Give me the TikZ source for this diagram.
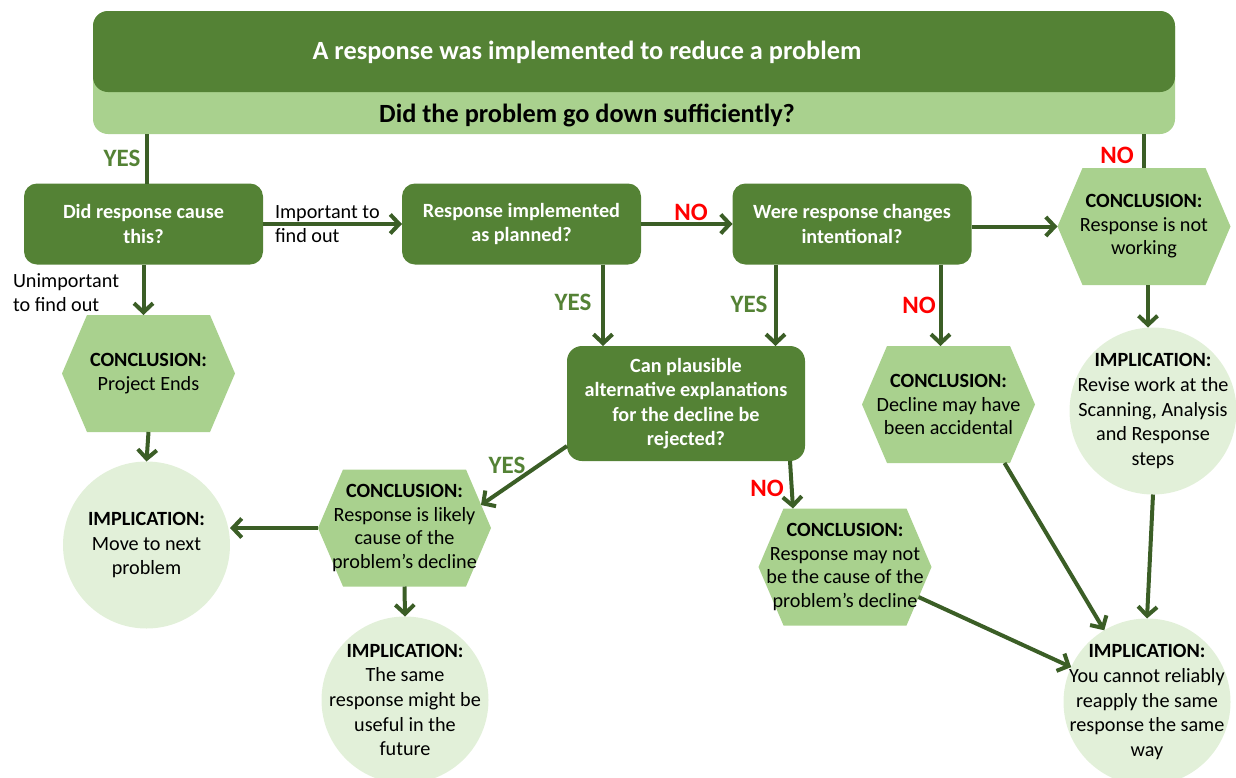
\documentclass[tikz,border=0pt]{standalone}
\usepackage{fontspec}
\setmainfont{Carlito}
\usetikzlibrary{arrows.meta}
\definecolor{dkg}{HTML}{548235}
\definecolor{ltg}{HTML}{A9D18E}
\definecolor{pale}{HTML}{E2F0D9}
\definecolor{arrc}{HTML}{3B5E26}
\definecolor{nored}{HTML}{FF0000}
\begin{document}
\begin{tikzpicture}[x=1pt,y=-1pt,
  every node/.style={font=\fontsize{20.2}{24}\selectfont, inner sep=0pt, outer sep=0pt},
  qbox/.style={fill=dkg, rounded corners=13pt, text=white, font=\fontsize{20.2}{24.4}\selectfont\bfseries, align=center, minimum width=239pt, minimum height=81pt},
  hexbox/.style={align=center, minimum width=173pt, minimum height=117pt, font=\fontsize{20.2}{23.6}\selectfont,
    path picture={\fill[ltg] (path picture bounding box.west) -- ([xshift=25pt]path picture bounding box.north west) -- ([xshift=-25pt]path picture bounding box.north east) -- (path picture bounding box.east) -- ([xshift=-25pt]path picture bounding box.south east) -- ([xshift=25pt]path picture bounding box.south west) -- cycle;}},
  circ/.style={circle, fill=pale, align=center, inner sep=-40pt, minimum size=167pt, font=\fontsize{20.2}{24.7}\selectfont},
  conn/.style={draw=arrc, line width=4pt},
  arr/.style={conn, -{Straight Barb[length=9pt,width=19pt]}},
  yes/.style={text=dkg, font=\fontsize{25}{30}\selectfont\bfseries},
  no/.style={text=nored, font=\fontsize{25}{30}\selectfont\bfseries},
  note/.style={align=left, anchor=west}
]
\useasboundingbox (0,0) rectangle (1236,777);
% banner
\node[fill=ltg, rounded corners=15pt, minimum width=1082pt, minimum height=123pt] (ban) at (634,72.5) {};
\node[fill=dkg, rounded corners=15pt, minimum width=1082pt, minimum height=81pt] (top) at (634,51.5) {};
\node[text=white, font=\fontsize{26.3}{31}\selectfont\bfseries] (ttl) at (587,52) {A response was implemented to reduce a problem};
\node[font=\fontsize{26.3}{31}\selectfont\bfseries] (sub) at (587,115) {Did the problem go down sufficiently?};
% questions
\node[qbox] (q1) at (143.5,224) {Did response cause\\this?};
\node[qbox] (q2) at (521.5,224) {Response implemented\\as planned?};
\node[qbox] (q3) at (852,224) {Were response changes\\intentional?};
\node[qbox, minimum width=238pt, minimum height=115pt, rounded corners=15pt] (q4) at (686,403.5) {Can plausible\\alternative explanations\\for the decline be\\rejected?};
% conclusions
\node[hexbox] (c1) at (1144,226.5) {\textbf{CONCLUSION:}\\Response is not\\working};
\node[hexbox] (cp) at (148.5,373.5) {\textbf{CONCLUSION:}\\Project Ends};
\node[hexbox] (ca) at (948.5,404.5) {\textbf{CONCLUSION:}\\Decline may have\\been accidental};
\node[hexbox] (cl) at (404.5,528) {\textbf{CONCLUSION:}\\Response is likely\\cause of the\\problem’s decline};
\node[hexbox] (cm) at (845,567) {\textbf{CONCLUSION:}\\Response may not\\be the cause of the\\problem’s decline};
% implications
\node[circ] (i1) at (146.5,545) {\textbf{IMPLICATION:}\\Move to next\\problem};
\node[circ] (ir) at (1153,411) {\textbf{IMPLICATION:}\\Revise work at the\\Scanning, Analysis\\and Response\\steps};
\node[circ] (is) at (405,700) {\textbf{IMPLICATION:}\\The same\\response might be\\useful in the\\future};
\node[circ] (ic) at (1147,702) {\textbf{IMPLICATION:}\\You cannot reliably\\reapply the same\\response the same\\way};
% helper coordinates
\coordinate (a1) at ([xshift=36pt]q4.north west);
\coordinate (a2) at ([xshift=43pt]q3.south west);
\coordinate (a3) at ([xshift=-8pt]ca.north);
\coordinate (a4) at ([xshift=4pt]c1.south);
\coordinate (b0) at ([xshift=3.5pt]q1.north);
% connectors
\draw[conn] (b0 |- ban.south) -- (b0);
\draw[conn] (c1.north |- ban.south) -- (c1.north);
\draw[arr] (q1.east) -- (q2.west);
\draw[arr] (q1.south) -- (q1.south |- cp.north);
\draw[arr] (cp.south) -- (i1.north);
\draw[arr] (q2.east) -- (q3.west);
\draw[arr] (q2.south -| a1) -- (a1);
\draw[arr] (a2) -- (a2 |- q4.north);
\draw[arr] (a3 |- q3.south) -- (a3);
\draw[arr] (q3.east |- c1.west) -- (c1.west);
\draw[arr] (a4) -- (a4 |- ir.north);
\draw[arr] ([yshift=15pt]q4.south west) -- ([xshift=-10pt,yshift=23pt]cl.east);
\draw[arr] ([xshift=-15pt]q4.south east) -- ([xshift=-52pt]cm.north);
\draw[arr] (cl.west) -- (cl.west -| i1.east);
\draw[arr] (cl.south) -- (is.north);
\draw[arr] ([xshift=56pt]ca.south) -- (ic);
\draw[arr] (ir.south) -- (ic.north);
\draw[arr] ([xshift=-13pt,yshift=-30pt]cm.east) -- (ic);
% labels
\node[yes] (y1) at (122,158) {YES};
\node[no] (n1) at (1117,155) {NO};
\node[note] (imp) at (275,224) {Important to\\find out};
\node[note] (unimp) at (13,293) {Unimportant\\to find out};
\node[no] (n2) at (691,212) {NO};
\node[yes] (y2) at (573,302) {YES};
\node[yes] (y3) at (749,304) {YES};
\node[no] (n3) at (919,305) {NO};
\node[yes] (y4) at (507,465) {YES};
\node[no] (n4) at (767,488) {NO};
\end{tikzpicture}
\end{document}
